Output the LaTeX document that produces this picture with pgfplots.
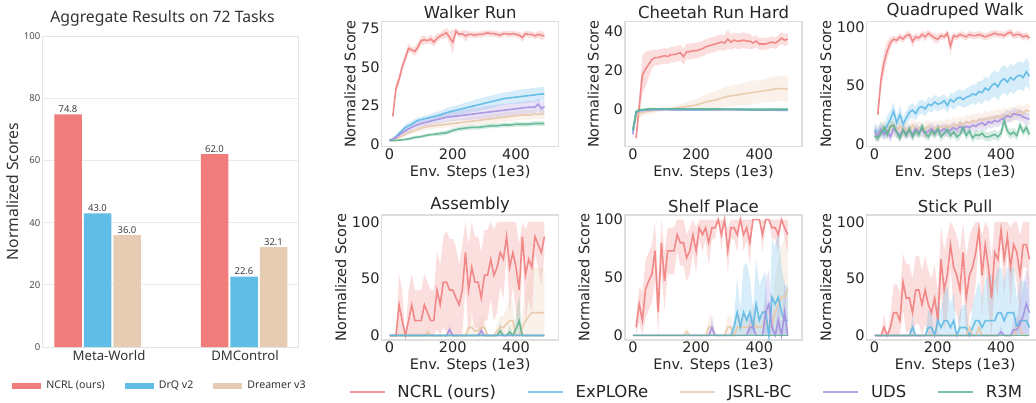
\documentclass[border=0pt]{standalone}
\usepackage{fontspec}
\setmainfont{DejaVu Sans}
\newfontfamily\nfont{Noto Sans}
\usepackage{pgfplots}
\usepackage{pgfplotstable}
\pgfplotsset{compat=1.18}
\usepgfplotslibrary{fillbetween}

\definecolor{bR}{RGB}{240,124,124}
\definecolor{bB}{RGB}{98,189,230}
\definecolor{bT}{RGB}{230,204,179}
\definecolor{cR}{RGB}{240,128,128}
\definecolor{cB}{RGB}{95,185,230}
\definecolor{cT}{RGB}{232,200,170}
\definecolor{cP}{RGB}{165,145,225}
\definecolor{cG}{RGB}{95,180,145}

\pgfplotsset{
  /pgf/number format/assume math mode=true,
  panel/.style={scale only axis, width=177pt, height=125pt,
    xmin=-25, xmax=535, xtick={0,200,400},
    axis line style={draw=black!13, line width=1.2pt},
    major tick length=0pt,
    tick label style={font=\fontsize{14.5}{16}\selectfont, text=black!85, inner sep=2pt},
    label style={font=\fontsize{14.5}{16}\selectfont, text=black!85},
    title style={font=\fontsize{16.5}{18}\selectfont, text=black!85, yshift=-7pt},
    xlabel={Env. Steps (1e3)}, ylabel={Normalized Score}},
  barleg/.style={legend image code/.code={\fill[##1] (0pt,-3pt) rectangle (29pt,3pt);}},
  lineleg/.style={legend image code/.code={\draw[##1] (0pt,0pt) -- (35pt,0pt);}},
}

% band + mean line: table, colour, id, lower clip, upper clip
\newcommand{\series}[5]{%
  \addplot[draw=none, name path=u#3, forget plot] table[x=x, y expr={min(\thisrow{m}+\thisrow{e},#5)}]{#1};
  \addplot[draw=none, name path=l#3, forget plot] table[x=x, y expr={max(\thisrow{m}-\thisrow{e},#4)}]{#1};
  \addplot[fill=#2, fill opacity=0.25, draw=none, forget plot] fill between[of=u#3 and l#3];
  \addplot[#2, line width=1.6pt, opacity=0.9, forget plot] table[x=x, y=m]{#1};
}

\pgfplotstableread{
x m e
0 0 0
490 0 0
}\tZero

% ---------- Walker Run
\pgfplotstableread{
x m e
10 18 2
20 36 3
30 42 3
40 50 3
50 56 3
60 62 3
70 61 2
80 60 3
90 63 3
100 67 3
110 67.5 3
120 67 2
130 68 3
140 66 3
150 68.5 3
160 70 2
170 71 3
180 72 3
190 69 4
200 66 8
210 73 2
220 71 2
230 71.5 2
240 70 4
250 71 2
260 71 2
270 70.5 2
280 71 2
290 71 2
300 71.5 2
310 72 2
320 71.5 2
330 71.5 2
340 71 2
350 70.5 2
360 71.5 2
370 71.5 2
380 71 2
390 71.5 2
400 71 2
410 70.5 2
420 69 3
430 71.5 2
440 71 2
450 71 2
460 70 2
470 71 2
480 70.5 3
490 70 2
}\tWR
\pgfplotstableread{
x m e
0 2.5 0.5
10 3 1
20 5 1
30 7 1.5
40 9 1.5
50 11 2
60 12 2
70 13 2
80 14.5 2
90 15.5 2
100 16 2
120 17 2
140 18 2.5
160 19 2.5
180 20.5 3
200 21.5 3
220 22.5 3
240 23.5 3.5
260 24.5 3.5
280 25.5 4
300 26.5 4
320 27.5 4
340 28.5 4
360 29.5 4
380 30 4
400 30.5 4.5
420 31 4.5
440 31.5 4.5
460 32 4.5
480 32.5 4.5
490 32.5 4.5
}\tWB
\pgfplotstableread{
x m e
0 2.5 0.5
20 3.5 1
40 5.5 1
60 7.5 1.5
80 9 1.5
100 10.5 2
120 11.5 2
140 12 2
160 12.5 2
180 13 2
200 13.5 2.5
220 14 2.5
240 14.5 2.5
260 15 2.5
280 15.5 2.5
300 16 3
320 16.5 3
340 17 3
360 17.5 3
380 18 3
400 18.5 3
420 19 3
440 19 3
460 19.5 3
480 19.5 3
490 19.5 3
}\tWT
\pgfplotstableread{
x m e
0 2.5 0.5
20 4.5 1
40 7.5 1.5
60 10 2
80 12 2
100 13.5 2
120 14.5 2.5
140 15.5 2.5
160 16.5 3
180 17.5 3
200 18 3
220 18.5 3
240 19 3.5
260 19.5 3.5
280 20 3.5
300 20.5 4
320 21 4
340 21.5 4
360 22 4
380 22.5 4
400 23 4
420 23.5 4
440 24 4
460 24 4
470 26 4
480 23 4
490 24.5 4
}\tWU
\pgfplotstableread{
x m e
0 2.5 0.5
20 2.5 0.5
40 3 0.5
60 3.5 1
80 4.5 1
100 5 1
120 6 1
140 6.5 1
160 7 1.5
180 7.5 1.5
200 9 1.5
220 10 1.5
240 10.5 1.5
260 11 1.5
280 11 1.5
300 11.5 1.5
320 12 1.5
340 12 1.5
360 12.5 1.5
380 12.5 1.5
400 13 1.5
420 13 1.5
440 13 1.5
460 13.5 1.5
480 13.5 1.5
490 13.5 1.5
}\tWG

% ---------- Cheetah Run Hard
\pgfplotstableread{
x m e
10 -15 2
30 17.5 10
40 20.5 9
50 23 7
60 25.5 5
70 26.5 4
80 26.5 4
90 27 4
100 27.5 4
110 27 4
120 28 4
130 28 4
140 28.5 4
150 29 4
160 27 4
170 29.5 4
180 29.5 4
190 30 4
200 30 4
210 30.5 4
220 31 4
230 32 4
240 32.5 4
250 33 4
260 33.5 4
270 34 4
280 34.5 4
290 34 4
300 36 5
310 34.5 4
320 35.5 4
330 35 4
340 35 4
350 35.5 4
360 35 4
370 35 4
380 34 3
390 35 3
400 33.5 3
410 33.5 3
420 33.5 3
430 34 3
440 34.5 3
450 34 3
460 35 3
470 36.5 3
480 35.5 3
490 36 3
}\tCR
\pgfplotstableread{
x m e
0 -10 3
10 -4 2
20 -2.5 2
40 -1.5 1.5
60 -1 1.5
80 -0.5 1
100 0 1
120 0 1
140 0.5 1.5
160 1 2
180 1.5 2.5
200 2 3
220 3 3.5
240 4 4
260 4.5 4.5
280 5.5 5
300 6.5 5
320 7 5.5
340 7.5 5.5
360 8 6
380 8.5 6
400 9 6
420 9.5 6
440 10 6.5
460 10.5 6.5
480 10.5 6.5
490 10 6.5
}\tCT
\pgfplotstableread{
x m e
0 -11.5 2
10 -1.5 1
20 -0.8 0.5
50 -0.3 0.5
100 -0.2 0.5
150 -0.3 0.5
200 -0.4 0.5
250 -0.3 0.5
300 -0.2 0.5
350 -0.4 0.5
400 -0.5 0.5
450 -0.4 0.5
490 -0.5 0.5
}\tCB
\pgfplotstableread{
x m e
0 -13 2
10 -2 1
20 -1 0.5
50 -0.5 0.5
100 -0.4 0.5
200 -0.5 0.5
300 -0.4 0.5
400 -0.6 0.5
490 -0.7 0.5
}\tCU
\pgfplotstableread{
x m e
0 -11 2
10 -1.5 1
20 -0.5 0.5
50 0 0.5
100 0 0.5
200 0 0.5
300 -0.1 0.5
400 -0.2 0.5
490 -0.2 0.5
}\tCG

% ---------- Quadruped Walk
\pgfplotstableread{
x m e
10 25 5
20 55 8
30 70 10
40 80 8
50 87 5
60 90 3
70 89 3
80 92 3
90 90 3
100 93 3
110 94 3
120 88 5
130 92 3
140 91 3
150 94 3
160 92 4
170 95 3
180 93 3
190 91 4
200 90 4
210 93 3
220 92 3
230 95 3
240 84 8
250 93 3
260 92 3
270 94 3
280 93 3
290 92 3
300 94 3
310 93 3
320 93 3
330 94 3
340 93 3
350 92 3
360 93 3
370 94 3
380 95 3
390 94 3
400 94 3
410 93 3
420 95 3
430 96 3
440 93 3
450 94 3
460 94 3
470 92 3
480 93 3
490 91 3
}\tQR
\pgfplotstableread{
x m e
0 12 6
10 9 6
20 13 6
30 10 6
40 16 8
50 21 8
60 28 8
70 18 6
80 25 8
90 17 6
100 22 6
110 27 6
120 29 6
130 26 6
140 31 6
150 32 6
160 30 6
170 34 6
180 33 6
190 36 6
200 34 6
210 35 6
220 37 6
230 33 6
240 38 6
250 36 7
260 39 7
270 40 7
280 38 7
290 40 8
300 41 8
310 43 8
320 42 9
330 45 9
340 44 10
350 48 10
360 46 10
370 50 11
380 52 11
390 49 12
400 54 12
410 56 12
420 53 12
430 57 12
440 55 12
450 58 12
460 59 12
470 57 12
480 62 12
490 58 12
}\tQB
\pgfplotstableread{
x m e
0 10 6
10 8 6
20 12 6
30 14 6
40 9 6
50 16 6
60 12 6
70 11 6
80 15 6
90 10 6
100 13 6
110 11 6
120 16 6
130 12 6
140 14 6
150 11 6
160 13 6
170 15 6
180 12 6
190 14 6
200 13 6
210 15 6
220 13 6
230 16 6
240 14 6
250 17 6
260 15 6
270 18 6
280 16 6
290 19 6
300 18 6
310 20 6
320 19 6
330 21 6
340 20 6
350 22 6
360 21 6
370 23 6
380 22 6
390 24 6
400 23 6
410 25 6
420 24 6
430 26 6
440 25 6
450 27 6
460 28 6
470 26 6
480 29 6
490 28 6
}\tQT
\pgfplotstableread{
x m e
0 10 5
10 7 5
20 12 5
30 8 5
40 11 5
50 6 5
60 13 5
70 10 5
80 7 5
90 12 5
100 9 5
110 11 5
120 8 5
130 13 5
140 10 5
150 12 5
160 9 5
170 11 5
180 13 5
190 10 5
200 12 5
210 11 5
220 13 5
230 10 5
240 12 5
250 14 5
260 12 5
270 15 5
280 13 5
290 15 5
300 14 5
310 16 5
320 15 5
330 17 5
340 18 5
350 16 5
360 19 5
370 18 5
380 20 5
390 19 5
400 21 5
410 22 5
420 24 5
430 23 5
440 26 5
450 25 5
460 25 5
470 23 5
480 22 5
490 21 5
}\tQU
\pgfplotstableread{
x m e
0 7 4
10 5 4
20 9 4
30 14 4
40 8 4
50 15 4
60 16 4
70 10 4
80 5 4
90 12 4
100 7 4
110 13 4
120 6 4
130 11 4
140 8 4
150 15 4
160 9 4
170 6 4
180 11 4
190 8 4
200 13 4
210 6 4
220 9 4
230 12 4
240 7 4
250 10 4
260 6 4
270 8 4
280 14 4
290 7 4
300 11 4
310 5 4
320 8 4
330 7 4
340 9 4
350 6 4
360 6 4
370 7 4
380 8 4
390 6 4
400 9 4
410 20 5
420 11 4
430 8 4
440 10 4
450 7 4
460 16 4
470 10 4
480 14 4
490 8 4
}\tQG

% ---------- Assembly
\pgfplotstableread{
x m e
0 0 0
10 0 0
20 0 0
30 27 27
40 13 27
50 0 0
60 13 27
70 27 27
80 13 27
90 13 27
100 13 27
110 27 27
120 20 27
130 13 27
140 13 27
150 40 35
160 27 35
170 47 40
180 47 45
190 40 45
200 40 45
210 33 45
220 27 35
230 40 40
240 73 30
250 40 40
260 60 40
270 47 40
280 47 40
290 33 40
300 53 40
310 53 40
320 67 35
330 53 40
340 60 40
350 73 30
360 67 35
370 87 15
380 60 40
390 73 30
400 60 40
410 40 40
420 87 15
430 53 40
440 67 35
450 60 40
460 87 15
470 80 20
480 73 30
490 87 15
}\tAR
\pgfplotstableread{
x m e
0 0 0
110 0 0
120 3 3
130 0 0
240 0 0
250 7 7
260 7 10
270 4 8
280 4 6
290 7 10
300 7 10
310 0 0
330 0 0
340 4 6
350 7 10
360 7 10
370 10 15
380 13 20
390 13 15
400 0 0
410 0 0
420 7 15
430 13 25
440 17 35
450 20 40
460 20 40
470 20 40
480 20 40
490 20 40
}\tAT
\pgfplotstableread{
x m e
0 0 0
180 0 0
190 5 5
200 0 0
280 0 0
290 4 4
300 0 0
490 0 0
}\tAU
\pgfplotstableread{
x m e
0 0 0
340 0 0
350 4 8
360 0 0
370 0 0
380 3 6
390 0 0
400 6 12
410 13 23
420 0 0
490 0 0
}\tAG

% ---------- Shelf Place
\pgfplotstableread{
x m e
10 7 8
20 27 15
30 13 25
40 40 25
50 47 25
60 53 25
70 73 25
80 20 25
90 80 25
100 47 25
110 73 20
120 73 20
130 73 20
140 87 15
150 80 20
160 80 20
170 67 20
180 73 20
190 87 15
200 73 20
210 93 10
220 87 15
230 93 10
240 80 20
250 93 10
260 93 10
270 100 0
280 87 15
290 100 0
300 73 20
310 93 10
320 93 10
330 87 15
340 100 0
350 87 15
360 93 10
370 80 20
380 100 0
390 100 0
400 100 0
410 87 15
420 100 0
430 100 0
440 93 10
450 93 10
460 87 15
470 100 0
480 93 10
490 87 15
}\tSR
\pgfplotstableread{
x m e
0 0 0
310 0 0
320 7 10
330 20 30
340 7 15
350 20 40
360 13 50
370 20 30
380 7 15
390 27 40
400 13 30
410 20 30
420 20 35
430 0 0
440 33 50
450 27 50
460 33 60
470 20 40
480 13 30
490 13 30
}\tSB
\pgfplotstableread{
x m e
0 0 0
160 0 0
170 3 5
180 0 0
230 0 0
240 7 10
250 7 10
260 0 0
290 0 0
300 7 10
310 7 10
320 0 0
330 7 10
340 7 10
350 7 10
360 7 10
370 7 10
380 13 15
390 7 10
400 7 10
410 7 10
420 13 20
430 7 15
440 7 15
450 20 30
460 27 40
470 33 45
480 33 50
490 40 50
}\tST
\pgfplotstableread{
x m e
0 0 0
240 0 0
250 7 10
260 0 0
360 0 0
370 7 10
380 7 10
390 0 0
410 0 0
420 20 25
430 27 30
440 7 15
450 0 0
460 13 20
470 0 0
480 20 30
490 0 0
}\tSU

% ---------- Stick Pull
\pgfplotstableread{
x m e
10 0 0
20 0 0
30 7 12
40 0 0
50 7 12
60 20 25
70 20 25
80 13 25
90 47 25
100 33 30
110 33 30
120 20 30
130 40 30
140 40 30
150 27 30
160 40 30
170 27 30
180 20 30
190 33 30
200 13 25
210 67 30
220 40 35
230 53 35
240 80 20
250 60 35
260 53 35
270 40 35
280 73 27
290 33 35
300 53 35
310 60 35
320 73 27
330 93 10
340 53 35
350 80 20
360 60 35
370 33 35
380 73 27
390 67 33
400 93 10
410 67 33
420 87 13
430 60 35
440 80 20
450 73 27
460 53 35
470 80 20
480 80 20
490 67 33
}\tPR
\pgfplotstableread{
x m e
0 0 0
110 0 0
120 7 10
130 0 0
150 0 0
160 0 0
170 7 15
180 7 15
190 0 0
200 13 20
210 7 15
220 13 25
230 13 30
240 7 20
250 13 25
260 0 0
270 7 15
280 7 20
290 7 20
300 0 0
310 7 20
320 13 25
330 13 35
340 7 25
350 13 35
360 13 40
370 13 40
380 13 35
390 20 40
400 20 40
410 13 35
420 20 40
430 20 40
440 20 40
450 7 25
460 13 35
470 13 35
480 13 35
490 7 25
}\tPB
\pgfplotstableread{
x m e
0 0 0
290 0 0
300 7 10
310 0 0
320 0 0
330 7 10
340 0 0
440 0 0
450 7 10
460 7 10
470 0 0
490 0 0
}\tPT
\pgfplotstableread{
x m e
0 0 0
390 0 0
400 3 5
410 0 0
430 0 0
440 5 10
450 5 10
460 10 20
470 17 25
480 28 30
490 20 30
}\tPU

\begin{document}
\begin{tikzpicture}

% ================= aggregate bar chart
\begin{axis}[at={(42pt,-347pt)}, anchor=south west, scale only axis,
  width=256pt, height=311pt,
  xmin=42, xmax=298, ymin=0, ymax=100,
  xtick={109,245}, xticklabels={Meta-World,DMControl},
  ytick={0,20,40,60,80,100},
  ymajorgrids, grid style={draw=black!8, line width=0.8pt},
  axis line style={draw=black!10, line width=0.8pt},
  major tick length=0pt,
  yticklabel style={font=\nfont\fontsize{9.5}{11}\selectfont, text=black!70, inner sep=1.5pt},
  xticklabel style={font=\nfont\fontsize{13.2}{15}\selectfont, text=black!80, inner sep=3pt},
  ylabel={Normalized Scores},
  ylabel style={font=\nfont\fontsize{15.7}{18}\selectfont, text=black!80},
  title={Aggregate Results on 72 Tasks},
  title style={font=\nfont\fontsize{15.75}{18}\selectfont, text=black!80, xshift=-7.5pt},
  nodes near coords={\pgfmathprintnumber[fixed,fixed zerofill,precision=1]{\pgfplotspointmeta}},
  every node near coord/.append style={font=\nfont\fontsize{9.5}{11}\selectfont, text=black!75, inner sep=1.5pt},
  legend columns=3,
  legend style={at={(0.461,-0.125)}, anchor=center, draw=none, fill=none,
    font=\nfont\fontsize{10.6}{12}\selectfont, text=black!80,
    /tikz/every odd column/.append style={column sep=3pt},
    /tikz/every even column/.append style={column sep=18pt}},
]
\addplot[ybar, bar width=27.5, bar shift=0pt, fill=bR, draw=none, barleg]
  coordinates {(68,74.8) (214.5,62.0)};
\addplot[ybar, bar width=27.5, bar shift=0pt, fill=bB, draw=none, barleg]
  coordinates {(97.5,43.0) (244,22.6)};
\addplot[ybar, bar width=27.5, bar shift=0pt, fill=bT, draw=none, barleg]
  coordinates {(127,36.0) (273.5,32.1)};
\legend{NCRL (ours),DrQ v2,Dreamer v3}
\end{axis}

% ================= Walker Run
\begin{axis}[panel, at={(381.7pt,-146.7pt)}, anchor=south west,
  ymin=-1.5, ymax=79.2, ytick={0,25,50,75}, title={Walker Run}]
\series{\tWR}{cR}{wr}{-100}{1000}
\series{\tWB}{cB}{wb}{-100}{1000}
\series{\tWT}{cT}{wt}{-100}{1000}
\series{\tWU}{cP}{wu}{-100}{1000}
\series{\tWG}{cG}{wg}{-100}{1000}
\end{axis}

% ================= Cheetah Run Hard
\begin{axis}[panel, at={(625pt,-146.7pt)}, anchor=south west,
  ymin=-19.5, ymax=45, ytick={-20,0,20,40}, yticklabels={−20,0,20,40},
  title={Cheetah Run Hard}]
\series{\tCR}{cR}{cr}{-100}{1000}
\series{\tCT}{cT}{ct}{-100}{1000}
\series{\tCU}{cP}{cu}{-100}{1000}
\series{\tCB}{cB}{cb}{-100}{1000}
\series{\tCG}{cG}{cg}{-100}{1000}
\end{axis}

% ================= Quadruped Walk
\begin{axis}[panel, at={(866.7pt,-146.7pt)}, anchor=south west,
  ymin=-2.5, ymax=105, ytick={0,50,100}, title={Quadruped Walk}]
\series{\tQR}{cR}{qr}{0}{100}
\series{\tQB}{cB}{qb}{0}{100}
\series{\tQT}{cT}{qt}{0}{100}
\series{\tQU}{cP}{qu}{0}{100}
\series{\tQG}{cG}{qg}{0}{100}
\end{axis}

% ================= Assembly (also carries the shared legend)
\begin{axis}[panel, at={(381.7pt,-340pt)}, anchor=south west,
  ymin=-4, ymax=106, ytick={0,50,100}, title={Assembly},
  legend columns=5, lineleg,
  legend style={at={(1.722,-0.4136)}, anchor=center, draw=none, fill=none,
    font=\fontsize{16.5}{18}\selectfont, text=black!85,
    /tikz/every odd column/.append style={column sep=10pt},
    /tikz/every even column/.append style={column sep=29pt}},
]
\series{\tAR}{cR}{ar}{0}{100}
\series{\tAT}{cT}{at}{0}{100}
\series{\tAU}{cP}{au}{0}{100}
\series{\tAG}{cG}{ag}{0}{100}
\series{\tZero}{cB}{ab}{0}{100}
\addlegendimage{cR, line width=1.6pt, opacity=0.8}
\addlegendentry{NCRL (ours)}
\addlegendimage{cB, line width=1.6pt, opacity=0.8}
\addlegendentry{ExPLORe}
\addlegendimage{cT, line width=1.6pt, opacity=0.8}
\addlegendentry{JSRL-BC}
\addlegendimage{cP, line width=1.6pt, opacity=0.8}
\addlegendentry{UDS}
\addlegendimage{cG, line width=1.6pt, opacity=0.8}
\addlegendentry{R3M}
\end{axis}

% ================= Shelf Place
\begin{axis}[panel, at={(625pt,-340pt)}, anchor=south west,
  ymin=-4, ymax=104, ytick={0,50,100}, title={Shelf Place}]
\series{\tSR}{cR}{sr}{0}{100}
\series{\tST}{cT}{st}{0}{100}
\series{\tSB}{cB}{sb}{0}{100}
\series{\tSU}{cP}{su}{0}{100}
\series{\tZero}{cG}{sg}{0}{100}
\end{axis}

% ================= Stick Pull
\begin{axis}[panel, at={(866.7pt,-340pt)}, anchor=south west,
  ymin=-4, ymax=106, ytick={0,50,100}, title={Stick Pull}]
\series{\tPR}{cR}{pr}{0}{100}
\series{\tPB}{cB}{pb}{0}{100}
\series{\tPT}{cT}{pt}{0}{100}
\series{\tPU}{cP}{pu}{0}{100}
\series{\tZero}{cG}{pg}{0}{100}
\end{axis}

% crop the page to the reference frame (right column is cut off there)
\pgfresetboundingbox
\useasboundingbox (0,0) rectangle (1036pt,-402pt);
\end{tikzpicture}
\end{document}
